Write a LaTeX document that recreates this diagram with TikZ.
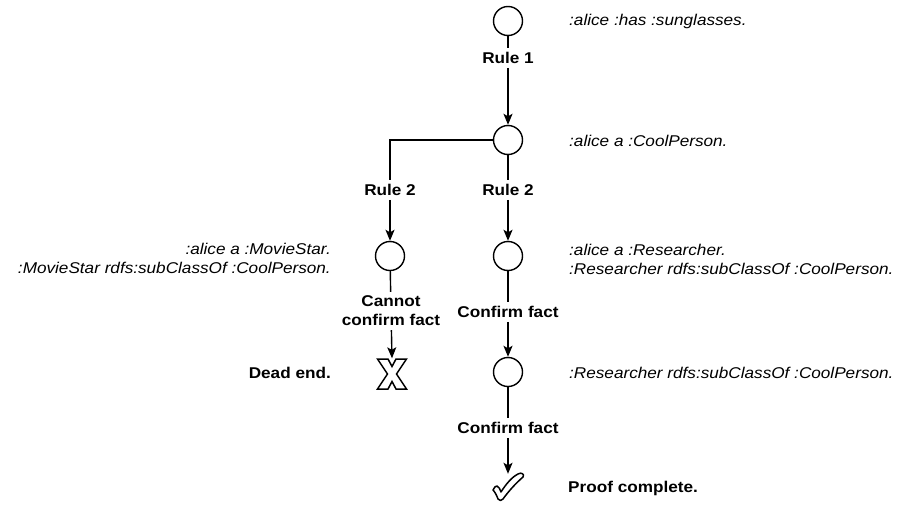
\documentclass[tikz,border=0pt]{standalone}
\usepackage{fontspec}
\setmainfont{Liberation Sans}[FakeStretch=1.1]
\usetikzlibrary{arrows.meta}
\begin{document}
\begin{tikzpicture}[x=1pt,y=-1pt,
  font=\fontsize{15.6}{19}\selectfont,
  state/.style={circle,draw,line width=1.4pt,minimum size=29pt,inner sep=0pt},
  rulelbl/.style={font=\fontsize{15.6}{19}\selectfont\bfseries,align=center,inner sep=4pt},
  fact/.style={font=\fontsize{15.6}{19}\selectfont\itshape,inner sep=0pt},
  note/.style={font=\fontsize{15.6}{19}\selectfont\bfseries,inner sep=0pt},
  link/.style={line width=1.4pt},
  arr/.style={line width=1.4pt,-{Stealth[length=11pt,width=9pt,inset=2.5pt]}}]
\useasboundingbox (0,0) rectangle (901,506);

% proof states
\node[state] (c1) at (508,21) {};
\node[state] (c2) at (508,140) {};
\node[state] (c3) at (390,256) {};
\node[state] (c4) at (508,256) {};
\node[state] (c5) at (508,372) {};
\node[minimum width=29pt,minimum height=31pt,inner sep=0pt] (xm) at (392,374) {};
\node[minimum width=31pt,minimum height=26pt,inner sep=0pt] (ck) at (508,487) {};

% dead-end cross
\draw[line width=1.5pt,fill=white,line join=miter,shift={(xm.center)}]
  (-14.5,-15) -- (-4,-15) -- (0,-7.5) -- (4,-15) -- (14.5,-15) -- (4.5,0)
  -- (14.5,15) -- (4,15) -- (0,7.5) -- (-4,15) -- (-14.5,15) -- (-4.5,0) -- cycle;

% completion tick
\draw[line width=1.5pt,fill=white,line join=round]
  (493,490) .. controls (494,487) and (496,486) .. (497,486)
  .. controls (499,487) and (500,489) .. (501,492)
  .. controls (506,484) and (512,477) .. (518,474)
  .. controls (521,472) and (525,474) .. (523,477)
  .. controls (515,484) and (508,492) .. (503,499)
  .. controls (502,501) and (499,501) .. (498,499)
  .. controls (497,496) and (495,492) .. (493,490) -- cycle;

% rule labels
\node[rulelbl] (r1) at (508,58) {Rule 1};
\node[rulelbl] (r2a) at (390,190) {Rule 2};
\node[rulelbl] (r2b) at (508,190) {Rule 2};
\node[rulelbl] (lc) at (391,311) {Cannot\\confirm fact};
\node[rulelbl] (cf1) at (508,312) {Confirm fact};
\node[rulelbl] (cf2) at (508,428) {Confirm fact};

% connectors
\draw[link] (c1) -- (r1);
\draw[arr] (r1) -- (c2);
\draw[link] (c2.west) -| (r2a);
\draw[arr] (r2a) -- (c3);
\draw[link] (c2) -- (r2b);
\draw[arr] (r2b) -- (c4);
\draw[link] (c3) -- (lc);
\draw[arr] (lc) -- (xm.north);
\draw[link] (c4) -- (cf1);
\draw[arr] (cf1) -- (c5);
\draw[link] (c5) -- (cf2);
\draw[arr] (cf2) -- (ck.north);

% facts
\node[fact,anchor=west] (f1) at (569,21) {:alice :has :sunglasses.};
\node[fact,anchor=west] (f2) at (569,141) {:alice a :CoolPerson.};
\node[fact,anchor=west,align=left] (f3) at (569,259) {:alice a :Researcher.\\:Researcher rdfs:subClassOf :CoolPerson.};
\node[fact,anchor=west] (f4) at (569,373) {:Researcher rdfs:subClassOf :CoolPerson.};
\node[fact,anchor=east,align=right] (f5) at (331,258) {:alice a :MovieStar.\\:MovieStar rdfs:subClassOf :CoolPerson.};

% outcomes
\node[note,anchor=east] (dead) at (331,373) {Dead end.};
\node[note,anchor=west] (done) at (568,488) {Proof complete.};
\end{tikzpicture}
\end{document}
